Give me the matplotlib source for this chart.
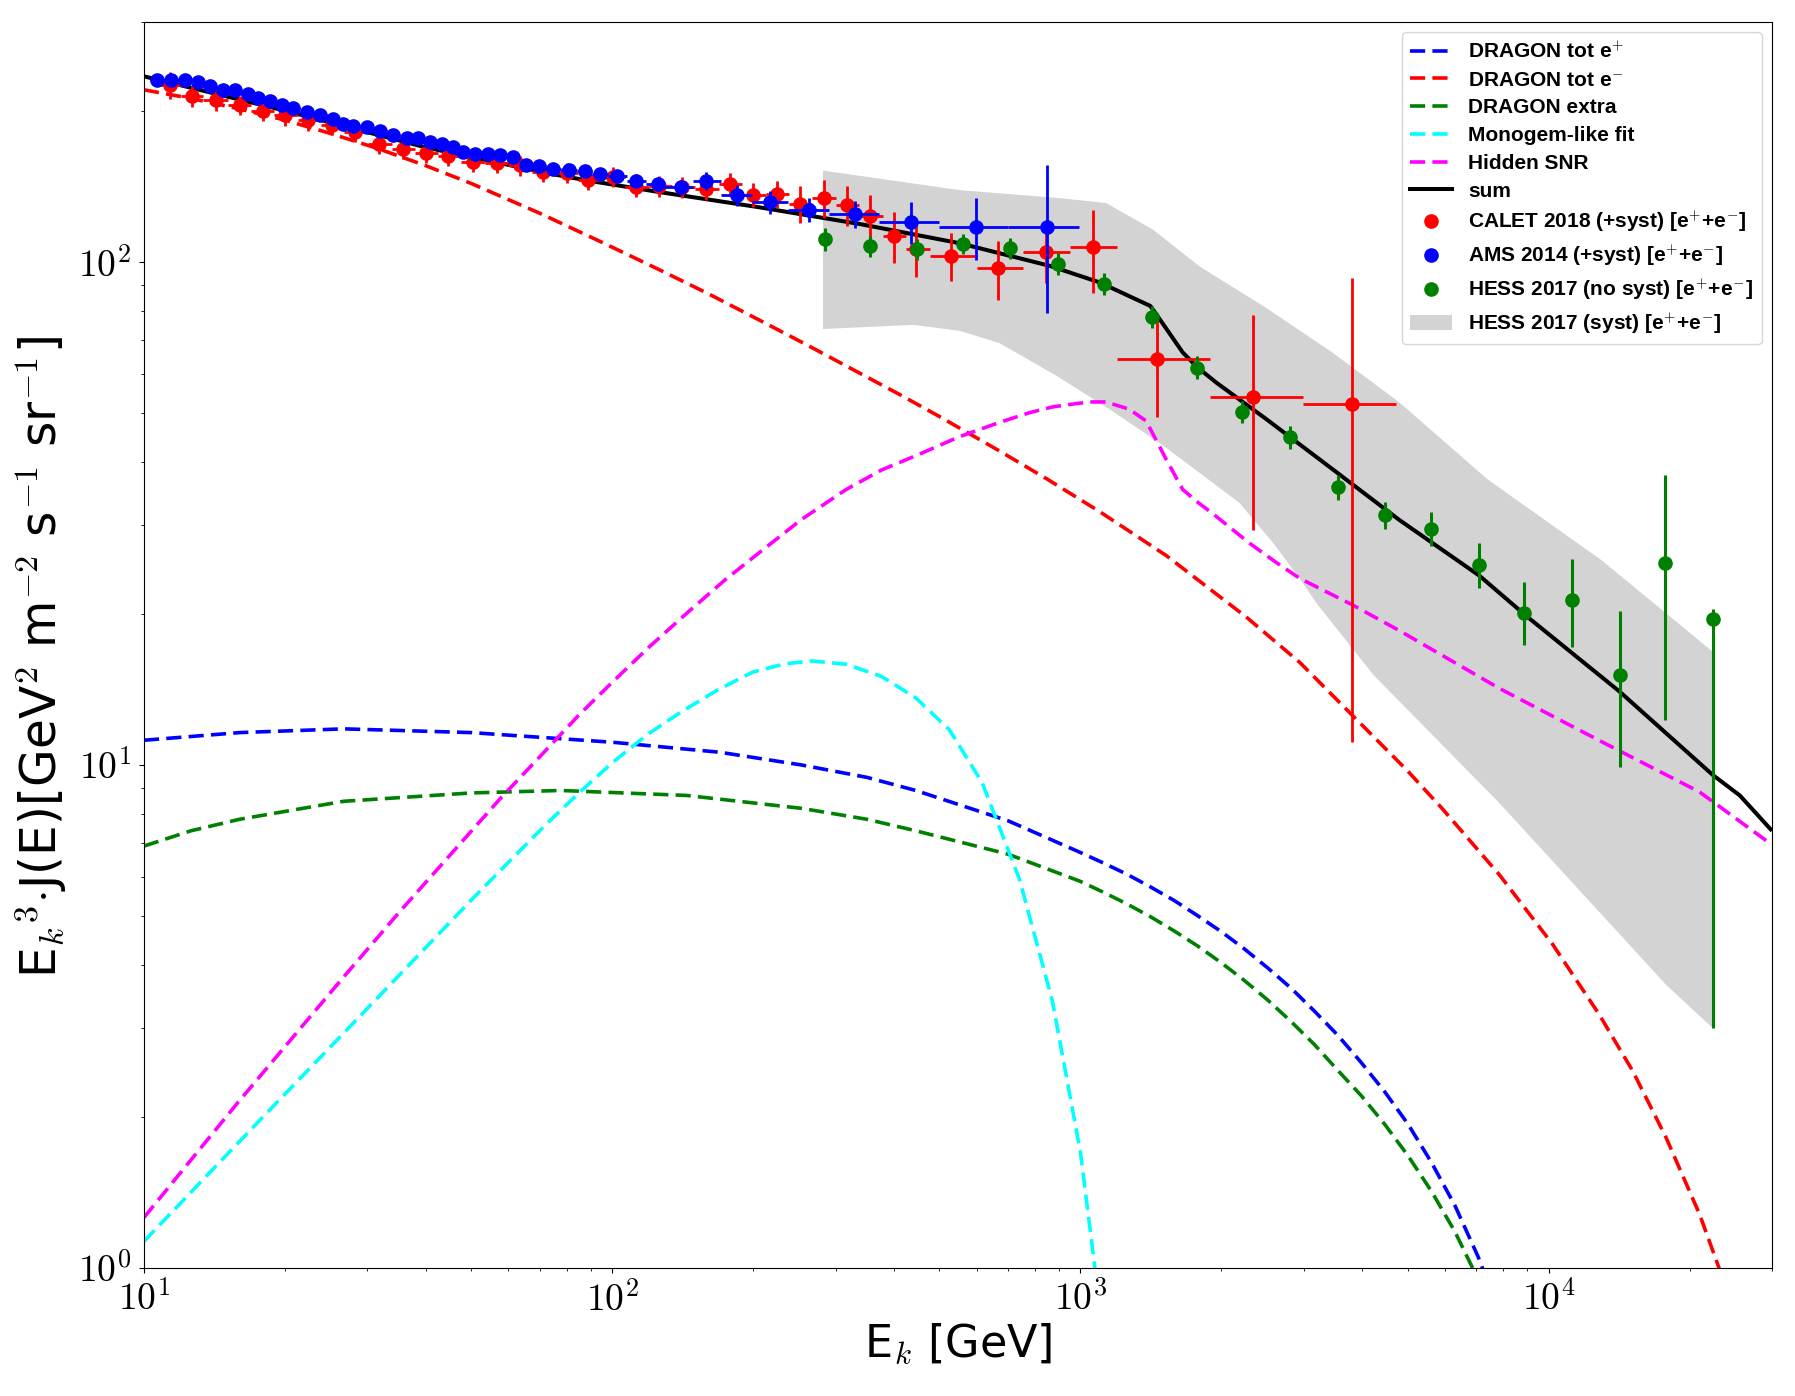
import numpy as np
import matplotlib
matplotlib.use("Agg")
import matplotlib.pyplot as plt
from matplotlib.lines import Line2D
from matplotlib.ticker import FixedLocator, FuncFormatter

plt.rcParams['mathtext.fontset'] = 'cm'
plt.rcParams['font.family'] = 'DejaVu Sans'

# ---- model curves: kinetic energy [GeV] and E^3 J(E) ----
pos_E = [10, 16, 26.7, 50, 100, 170, 254, 350, 445, 700, 1000, 1122, 1259, 1413, 1585, 1778,
         1995, 2239, 2512, 2818, 3162, 3548, 3981, 4467, 5012, 5623, 6310, 7079, 7586]
pos_J = [11.2, 11.6, 11.8, 11.6, 11.1, 10.6, 10.0, 9.45, 8.9, 7.75, 6.7, 6.38, 6.06, 5.72, 5.38,
         5.02, 4.67, 4.31, 3.95, 3.60, 3.24, 2.90, 2.56, 2.24, 1.93, 1.62, 1.33, 1.05, 0.885]

ele_E = [10, 12.6, 15.85, 20, 25.1, 31.6, 39.8, 50, 70.2, 95, 126.5, 160, 206, 260, 326, 410, 500,
         672, 850, 1099, 1524, 2259, 2940, 4070, 5000, 5940, 7850, 10200, 12800, 15100, 17800,
         21000, 23300, 24500]
ele_J = [220, 211.5, 202, 191.5, 180, 168.1, 155.7, 143.3, 124.9, 109.5, 96.4, 86.6, 76.7, 68.5,
         61.2, 54.6, 49.3, 42.1, 37.0, 31.9, 26.1, 19.7, 16.0, 11.8, 9.73, 8.17, 6.05, 4.4, 3.2,
         2.47, 1.82, 1.28, 0.98, 0.85]

extra_E = [10, 12.6, 16, 26.7, 50, 77.6, 144, 254, 350, 445, 700, 1000, 1122, 1259, 1413, 1585,
           1778, 1995, 2239, 2512, 2818, 3162, 3548, 3981, 4467, 5012, 5623, 6310, 7079, 7413]
extra_J = [6.9, 7.4, 7.8, 8.47, 8.8, 8.9, 8.7, 8.2, 7.8, 7.4, 6.65, 5.87, 5.58, 5.29, 4.99, 4.68,
           4.37, 4.05, 3.73, 3.41, 3.09, 2.78, 2.47, 2.20, 1.93, 1.67, 1.42, 1.18, 0.947, 0.856]

mono_E = [10, 17.8, 31.6, 50.1, 70.8, 84.1, 100, 118.9, 141.3, 167.9, 199.5, 234.4, 268, 316, 376,
          445, 525, 617, 741, 871, 1000, 1072, 1109]
mono_J = [1.13, 1.98, 3.45, 5.40, 7.48, 8.73, 10.1, 11.5, 12.8, 14.1, 15.3, 15.9, 16.1, 15.86, 15.0,
          13.6, 11.75, 9.22, 5.93, 3.40, 1.70, 1.015, 0.73]

snr_E = [10, 15.85, 26.7, 35.5, 46.8, 57.5, 71.5, 85.1, 100, 120.2, 144, 173.8, 208.9, 254, 316,
         376, 445, 550, 672, 780, 871, 964, 1047, 1135, 1270, 1382, 1525, 1654, 1780, 1918, 2298,
         2600, 2940, 3816, 4800, 7850, 12800, 21000, 29800]
snr_J = [1.26, 2.13, 3.79, 5.16, 6.89, 8.55, 10.6, 12.6, 14.6, 17.2, 20.0, 23.3, 26.7, 30.8, 35.3,
         38.6, 41.2, 44.9, 48.0, 50.2, 51.5, 52.2, 52.7, 52.7, 51.0, 48.3, 40.5, 35.3, 33.3, 31.6,
         27.6, 25.4, 23.5, 20.8, 18.5, 14.2, 11.2, 8.84, 6.97]

sum_E = [10, 20, 40, 60, 77.3, 89.5, 126.5, 206, 338, 552, 859, 1099, 1410, 1453, 1654, 1780,
         1950, 2496, 3460, 4800, 7110, 8950, 14170, 22400, 25600, 29800]
sum_J = [234, 200, 169, 156, 148.6, 145, 137.7, 128.5, 119, 109, 98.3, 91.1, 81.8, 78.7, 66.1, 61.7,
         57.6, 48.7, 38.7, 30.7, 23.8, 19.8, 14.0, 9.56, 8.7, 7.45]

# ---- data ----
cal_E = [11.34, 12.65, 14.26, 16.0, 17.94, 20.02, 22.44, 25.18, 28.24, 31.83, 35.69, 40.04, 44.67,
         50.51, 56.64, 63.53, 71.25, 79.91, 88.87, 100.2, 112.3, 126.0, 141.3, 159.0, 178.9, 200.0,
         224.4, 251.6, 283.1, 317.5, 354.8, 399.3, 446.2, 530.1, 666.6, 845.6, 1063, 1460, 2335, 3805]
cal_J = [224.5, 213.5, 209.6, 204.8, 199.6, 195.6, 191.2, 186.9, 181.3, 171.8, 168.0, 164.9, 162.4,
         158.4, 157.3, 155.6, 150.9, 150.4, 145.8, 147.5, 140.9, 141.5, 140.9, 139.8, 143.0, 136.0,
         136.6, 130.5, 134.0, 129.9, 123.3, 112.5, 106.1, 102.9, 97.1, 104.8, 106.9, 64.3, 53.8, 52.1]
cal_err = [14, 10, 9.5, 9.2, 9.0, 8.8, 8.6, 8.4, 8.2, 7.8, 7.6, 7.4, 7.3, 7.2, 7.1, 7.0, 6.8, 6.8,
           6.6, 6.7, 6.5, 6.6, 6.7, 7.0, 7.5, 7.5, 8.5, 11, 11.5, 12, 12.4, 13, 12.7, 11.3, 13, 14,
           20, 15, 24.5, 41]
cal_edges = [10.7, 12.0, 13.4, 15.1, 16.9, 19.0, 21.3, 23.9, 26.8, 30.1, 33.8, 37.9, 42.5, 47.6,
             53.5, 60.0, 67.3, 75.5, 84.7, 95.0, 106.6, 119.6, 134.2, 150.6, 169.0, 189.6, 212.7,
             238.7, 267.8, 300.5, 337.2, 378.3, 424.5, 476.3, 600, 753, 949, 1195, 1888, 2985, 4710]

ams_E = [10.65, 11.41, 12.24, 13.07, 13.84, 14.74, 15.66, 16.64, 17.55, 18.59, 19.70, 20.85, 22.27,
         23.77, 25.38, 26.66, 28.01, 29.91, 31.93, 34.09, 36.41, 38.54, 40.83, 43.24, 45.78, 48.08,
         50.92, 54.37, 57.59, 61.29, 65.43, 69.86, 74.83, 80.94, 87.44, 94.1, 102.2, 112.7, 125.4,
         140.6, 159.0, 184.3, 217.1, 263.4, 329.6, 435.5, 599.6, 848.1]
ams_J = [229.7, 229.7, 230.5, 228.0, 223.9, 219.4, 219.4, 216.1, 211.9, 208.6, 205.5, 202.4, 198.7,
         195.7, 192.7, 188.4, 186.4, 185.5, 181.8, 179.1, 176.4, 176.4, 173.2, 171.8, 169.2, 165.4,
         164.1, 164.1, 162.9, 161.6, 156.1, 155.1, 153.2, 152.7, 152.0, 149.7, 148.6, 145.2, 143.0,
         140.9, 145.2, 136.0, 131.5, 127.1, 124.6, 120.0, 117.6, 117.6]
ams_err = [4.6, 4.6, 4.6, 4.6, 4.5, 4.4, 4.4, 4.3, 4.2, 4.2, 4.1, 4.0, 4.0, 3.9, 3.9, 3.8, 3.7, 3.7,
           3.6, 3.6, 3.5, 3.5, 3.5, 3.4, 3.4, 3.3, 3.3, 3.3, 3.3, 3.2, 3.2, 3.2, 3.2, 3.2, 3.3, 3.5,
           3.8, 4.2, 4.6, 5.0, 6.0, 6.5, 6.8, 7.2, 7.5, 11.5, 16.6, 38.5]
ams_edges = [10.3, 11.02, 11.82, 12.65, 13.45, 14.28, 15.19, 16.14, 17.09, 18.06, 19.14, 20.27,
             21.55, 23.01, 24.56, 26.01, 27.33, 28.94, 30.90, 32.99, 35.23, 37.46, 39.67, 42.02,
             44.49, 46.92, 49.48, 52.62, 55.96, 59.41, 63.33, 67.61, 72.30, 77.83, 84.13, 90.71,
             98.07, 107.6, 118, 129, 149, 171, 199, 237, 290, 371, 500, 700, 995]

hess_E = [285, 355, 448, 561, 709, 896, 1122, 1421, 1773, 2216, 2805, 3548, 4482, 5610, 7090,
          8870, 11220, 14200, 17720, 22390]
hess_J = [111.1, 107.5, 106.1, 108.6, 106.5, 99.1, 90.4, 77.8, 61.7, 50.4, 44.8, 35.7, 31.4, 29.5,
          25.0, 20.1, 21.3, 15.1, 25.2, 19.5]
hess_lo = [6, 5, 5, 5, 5, 5, 4.5, 4, 3.2, 2.6, 2.4, 2.0, 1.9, 2.2, 2.5, 2.8, 4.1, 5.2, 12.9, 16.5]
hess_hi = [6, 5, 5, 5, 5, 5, 4.5, 4, 3.2, 2.6, 2.4, 2.0, 2.0, 2.3, 2.6, 3.0, 4.4, 5.1, 12.5, 0.9]

# HESS systematic band edges
band_up_E = [282, 552, 903, 1135, 1429, 1797, 2496, 3460, 4800, 7400, 13000, 22400]
band_up_J = [152, 139, 134, 131, 116, 98, 81, 66, 52.6, 37, 25.5, 16.8]
band_lo_E = [282, 440, 552, 672, 889, 1153, 1475, 1797, 2186, 2575, 2940, 3190, 4226, 7850, 17800, 22400]
band_lo_J = [73.6, 75, 73, 69, 59.4, 51, 43.7, 38.1, 33.2, 27.7, 23.5, 21, 15.1, 8.4, 3.66, 3.0]


def bin_xerr(E, edges):
    E = np.asarray(E)
    edges = np.asarray(edges)
    return [E - edges[:-1], edges[1:] - E]


fig, ax = plt.subplots(figsize=(17.95, 13.96), dpi=100)
fig.subplots_adjust(left=0.0802, right=0.9872, bottom=0.0917, top=0.9842)

band, = ax.fill(band_up_E + band_lo_E[::-1], band_up_J + band_lo_J[::-1],
                color='lightgray', lw=0, zorder=0, label='HESS 2017 (syst) [e$^{+}$+e$^{-}$]')

lw = 2.6
dash = (4.2, 2.0)
h1, = ax.plot(pos_E, pos_J, '--', dashes=dash, color='blue', lw=lw, label='DRAGON tot e$^{+}$')
h2, = ax.plot(ele_E, ele_J, '--', dashes=dash, color='red', lw=lw, label='DRAGON tot e$^{-}$')
h3, = ax.plot(extra_E, extra_J, '--', dashes=dash, color='green', lw=lw, label='DRAGON extra')
h4, = ax.plot(mono_E, mono_J, '--', dashes=dash, color='cyan', lw=lw, label='Monogem-like fit')
h5, = ax.plot(snr_E, snr_J, '--', dashes=dash, color='magenta', lw=lw, label='Hidden SNR')
h6, = ax.plot(sum_E, sum_J, '-', color='black', lw=lw + 0.3, label='sum')

ms = 9.5
ax.errorbar(cal_E, cal_J, yerr=cal_err, xerr=bin_xerr(cal_E, cal_edges), fmt='o', color='red',
            ms=ms, elinewidth=2, capsize=0, zorder=3)
ax.errorbar(ams_E, ams_J, yerr=ams_err, xerr=bin_xerr(ams_E, ams_edges), fmt='o', color='blue',
            ms=ms, elinewidth=2, capsize=0, zorder=4)
ax.errorbar(hess_E, hess_J, yerr=[hess_lo, hess_hi], fmt='o', color='green',
            ms=ms, elinewidth=2.2, capsize=0, zorder=5)

p_cal = Line2D([], [], marker='o', ls='none', color='red', ms=ms, label='CALET 2018 (+syst) [e$^{+}$+e$^{-}$]')
p_ams = Line2D([], [], marker='o', ls='none', color='blue', ms=ms, label='AMS 2014 (+syst) [e$^{+}$+e$^{-}$]')
p_hess = Line2D([], [], marker='o', ls='none', color='green', ms=ms, label='HESS 2017 (no syst) [e$^{+}$+e$^{-}$]')

ax.set_xscale('log')
ax.set_yscale('log')
ax.set_xlim(10, 30000)
ax.set_ylim(1, 300)

fmt = FuncFormatter(lambda v, _: r'$10^{%d}$' % int(round(np.log10(v))))
ax.xaxis.set_major_locator(FixedLocator([10, 100, 1000, 10000]))
ax.yaxis.set_major_locator(FixedLocator([1, 10, 100]))
ax.xaxis.set_major_formatter(fmt)
ax.yaxis.set_major_formatter(fmt)
ax.tick_params(axis='both', which='major', labelsize=27, pad=6)

ax.set_xlabel(r'E$_k$ [GeV]', fontsize=32)
ax.set_ylabel(r'E$_k$$^3$$\cdot$J(E)[GeV$^2$ m$^{-2}$ s$^{-1}$ sr$^{-1}$]', fontsize=35)
ax.xaxis.set_label_coords(0.5, -0.043)
ax.yaxis.set_label_coords(-0.046, 0.49)

ax.legend(handles=[h1, h2, h3, h4, h5, h6, p_cal, p_ams, p_hess, band], loc='upper right',
          prop={'family': 'Liberation Sans', 'weight': 'bold', 'size': 15},
          labelspacing=0.42, numpoints=1)

fig.savefig('out.png', dpi=100)
